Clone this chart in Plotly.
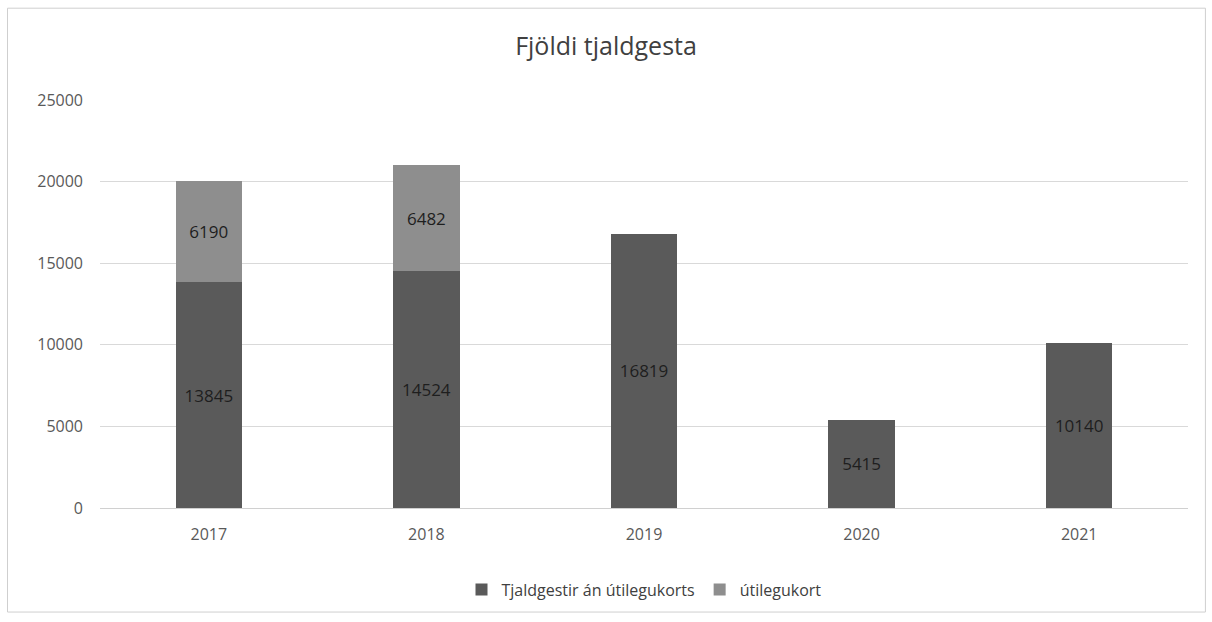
import plotly.graph_objects as go

years = ["2017", "2018", "2019", "2020", "2021"]
an_utilegukorts = [13845, 14524, 16819, 5415, 10140]
utilegukort = [6190, 6482, None, None, None]
y_ticks = [0, 5000, 10000, 15000, 20000, 25000]

FONT = "Open Sans"

fig = go.Figure()
fig.add_trace(go.Bar(
    x=years, y=an_utilegukorts, name="Tjaldgestir án útilegukorts",
    marker=dict(color="#5a5a5a", line=dict(width=0)),
    text=[str(v) for v in an_utilegukorts], textposition="inside",
    insidetextanchor="middle", textangle=0,
    textfont=dict(family=FONT, size=17, color="#1e1e1e"),
))
fig.add_trace(go.Bar(
    x=years, y=utilegukort, name="útilegukort",
    marker=dict(color="#8e8e8e", line=dict(width=0)),
    text=[str(v) if v is not None else "" for v in utilegukort], textposition="inside",
    insidetextanchor="middle", textangle=0,
    textfont=dict(family=FONT, size=17, color="#1e1e1e"),
))

fig.update_layout(
    barmode="stack",
    bargap=0.695,
    width=1212, height=622,
    margin=dict(l=100, r=24, t=100, b=114),
    paper_bgcolor="white", plot_bgcolor="white",
    font=dict(family=FONT, color="#595959"),
    title=dict(text="Fjöldi tjaldgesta", x=0.5, xanchor="center", y=0.925, yanchor="middle",
               font=dict(family=FONT, size=25, color="#404040")),
    legend=dict(orientation="h", x=0.5, xanchor="center", y=-0.2, yanchor="middle",
                traceorder="normal", font=dict(family=FONT, size=16, color="#404040"),
                itemsizing="constant"),
    uniformtext=dict(minsize=10, mode="show"),
    xaxis=dict(showgrid=False, showline=True, linecolor="#d0d0d0", linewidth=1,
               ticks="", tickfont=dict(family=FONT, size=16, color="#595959"),
               ticklabelstandoff=12),
    yaxis=dict(range=[0, 25000], tickvals=y_ticks, ticktext=[str(v) for v in y_ticks],
               showgrid=True, gridcolor="#d9d9d9",
               gridwidth=1, zeroline=False, showline=False, ticks="",
               tickfont=dict(family=FONT, size=16, color="#595959"), ticklabelstandoff=16),
    shapes=[dict(type="rect", xref="paper", yref="paper",
                 x0=-0.085, x1=1.016, y0=-0.255, y1=1.225,
                 line=dict(color="#cfcfcf", width=1), fillcolor="rgba(0,0,0,0)")],
)

fig.write_html("out.html", config={"displayModeBar": False},
               post_script="document.body.style.margin='0';document.body.style.padding='0';")
